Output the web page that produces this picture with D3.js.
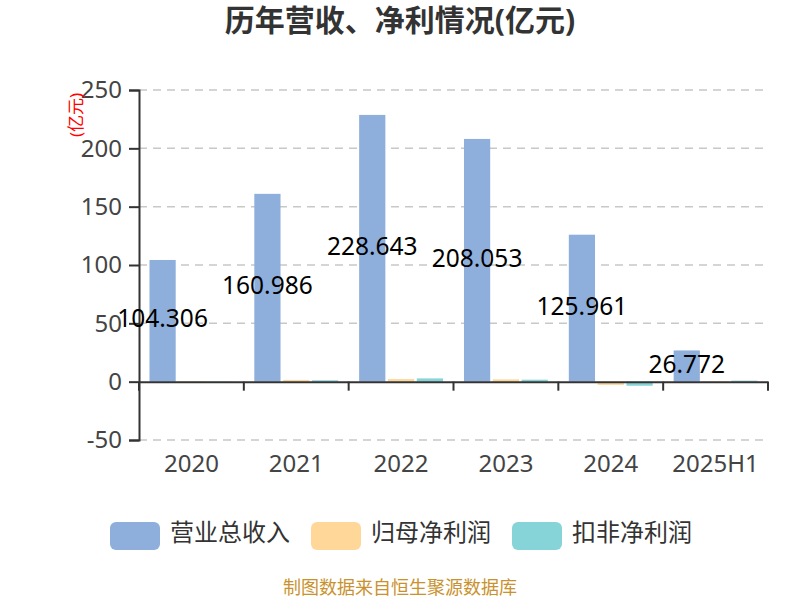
<!DOCTYPE html>
<html><head><meta charset="utf-8">
<script src="https://cdn.jsdelivr.net/npm/d3@7"></script>
<style>
body{margin:0;background:#fff;}
svg{font-family:"Noto Sans","Noto Sans CJK SC",sans-serif;}
</style></head>
<body><svg id="c" width="800" height="600"></svg>
<script>
const categories = ["2020","2021","2022","2023","2024","2025H1"];
const revenue = [104.306,160.986,228.643,208.053,125.961,26.772];
const netProfit = [0.4,1.5,2.2,2.0,-2.8,0.5];
const deductedProfit = [0.2,1.2,2.8,1.7,-3.5,0.9];
const seriesNames = ["营业总收入","归母净利润","扣非净利润"];
const colors = ["#8eaedb","#ffd899","#86d4d8"];
const yTicks = [-50,0,50,100,150,200,250];

(function(){
const svg = d3.select("#c");
const pL=139, pR=768, pT=90, pB=440;
const x = d3.scaleBand().domain(categories).range([pL,pR]);
const y = d3.scaleLinear().domain([-50,250]).range([pB,pT]);
const series = [revenue,netProfit,deductedProfit];

svg.append("text").attr("x",400).attr("y",23).attr("text-anchor","middle")
  .attr("dominant-baseline","middle").attr("font-size",30).attr("font-weight","bold")
  .attr("fill","#333").text("历年营收、净利情况(亿元)");

// grid
svg.append("g").selectAll("line").data(yTicks.filter(d=>d!==0)).join("line")
  .attr("x1",pL).attr("x2",pR).attr("y1",d=>y(d)).attr("y2",d=>y(d))
  .attr("stroke","#c8c8c8").attr("stroke-width",1.5).attr("stroke-dasharray","8,6");

// y axis
const yAxis = svg.append("g").attr("transform",`translate(${pL},0)`)
  .call(d3.axisLeft(y).tickValues(yTicks).tickSize(10).tickPadding(7).tickFormat(d=>String(d)));
yAxis.select(".domain").attr("stroke","#333").attr("stroke-width",2);
yAxis.selectAll(".tick line").attr("stroke","#333").attr("stroke-width",2);
yAxis.selectAll(".tick text").attr("font-size",24).attr("fill","#444").attr("font-family","Noto Sans");

svg.append("text").attr("transform","translate(77,115) rotate(-90)")
  .attr("text-anchor","middle").attr("dominant-baseline","middle")
  .attr("font-size",17).attr("fill","#ff0000").text("(亿元)");

// bars
const inner = x.bandwidth()*0.8;
const bw = inner/(3+2*0.1);
const gap = bw*0.1;
categories.forEach((c,i)=>{
  series.forEach((s,k)=>{
    const v=s[i];
    const bx = x(c)+x.bandwidth()*0.1 + k*(bw+gap);
    svg.append("rect").attr("x",bx).attr("width",bw)
      .attr("y",Math.min(y(v),y(0))).attr("height",Math.abs(y(v)-y(0)))
      .attr("fill",colors[k]);
  });
});

// x axis at zero
const xAxis = svg.append("g").attr("transform",`translate(0,${y(0)})`)
  .call(d3.axisBottom(x).tickSize(0).tickFormat(""));
xAxis.select(".domain").attr("stroke","#333").attr("stroke-width",2);
const edges = categories.map(c=>x(c)).concat([pR]);
svg.append("g").selectAll("line").data(edges).join("line")
  .attr("x1",d=>d).attr("x2",d=>d).attr("y1",y(0)).attr("y2",y(0)+9)
  .attr("stroke","#333").attr("stroke-width",2);
svg.append("g").selectAll("text").data(categories).join("text")
  .attr("x",d=>x(d)+x.bandwidth()/2).attr("y",466)
  .attr("text-anchor","middle").attr("dominant-baseline","middle")
  .attr("font-size",24).attr("fill","#444").text(d=>d);

// labels
svg.append("g").selectAll("text").data(revenue).join("text")
  .attr("x",(d,i)=>x(categories[i])+x.bandwidth()*0.1+bw/2)
  .attr("y",d=>(y(d)+y(0))/2)
  .attr("text-anchor","middle").attr("dominant-baseline","middle")
  .attr("font-size",24.5).attr("fill","#000").text(d=>d.toFixed(3));

// legend
const legX=[110,311,512];
seriesNames.forEach((n,k)=>{
  svg.append("rect").attr("x",legX[k]).attr("y",522).attr("width",50).attr("height",28)
    .attr("rx",6).attr("fill",colors[k]);
  svg.append("text").attr("x",legX[k]+60).attr("y",535).attr("dominant-baseline","middle")
    .attr("font-size",24).attr("fill","#333").text(n);
});

svg.append("text").attr("x",400).attr("y",589).attr("text-anchor","middle")
  .attr("dominant-baseline","middle").attr("font-size",18).attr("fill","#c9922e")
  .text("制图数据来自恒生聚源数据库");
})();
</script></body></html>
